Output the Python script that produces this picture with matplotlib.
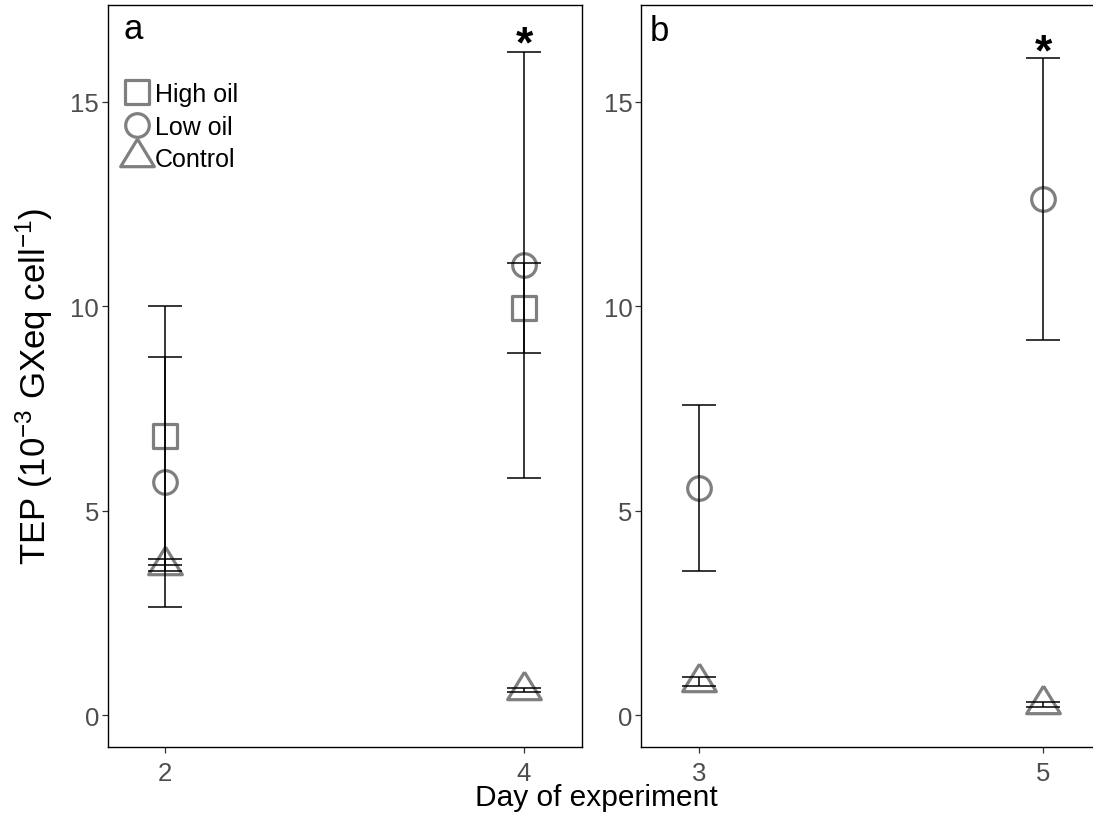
import matplotlib
matplotlib.use("Agg")
import matplotlib.pyplot as plt
from matplotlib.markers import MarkerStyle

plt.rcParams['font.family'] = ['Liberation Sans', 'DejaVu Sans']
plt.rcParams['mathtext.fontset'] = 'custom'
plt.rcParams['mathtext.rm'] = 'Liberation Sans'
plt.rcParams['mathtext.it'] = 'Liberation Sans:italic'
plt.rcParams['mathtext.bf'] = 'Liberation Sans:bold'

# panel a
days_a = [2, 4]
high_a = [6.83, 9.95]
high_a_err = [3.17, 1.1]
low_a = [5.7, 11.0]
low_a_err = [3.05, 5.2]
ctrl_a = [3.67, 0.61]
ctrl_a_err = [0.15, 0.05]

# panel b (no high oil treatment)
days_b = [3, 5]
low_b = [5.55, 12.62]
low_b_err = [2.03, 3.45]
ctrl_b = [0.82, 0.26]
ctrl_b_err = [0.11, 0.06]

# significance marks (day, panel)
star_a = [4]
star_b = [5]

grey = '#7f7f7f'
sq = MarkerStyle('s', joinstyle='round')
circ = MarkerStyle('o')
tri = MarkerStyle([(0, 0.547), (-0.5, -0.273), (0.5, -0.273), (0, 0.547)], joinstyle='round')


def draw_group(ax, days, vals, errs, marker, ms, label):
    ax.plot(days, vals, linestyle='none', marker=marker, ms=ms, mfc='none',
            mec=grey, mew=2.3, zorder=2, label=label)
    ax.errorbar(days, vals, yerr=errs, fmt='none', ecolor='black',
                elinewidth=1.1, capsize=12.5, capthick=1.1, zorder=3)


def style_axis(ax, xticks):
    ax.set_ylim(-0.78, 17.36)
    ax.set_yticks([0, 5, 10, 15])
    ax.set_xticks(xticks)
    for s in ax.spines.values():
        s.set_linewidth(1.0)
        s.set_color('black')
    ax.tick_params(axis='both', colors='#333333', labelcolor='#4d4d4d',
                   labelsize=18.5, length=4.3, width=0.9, pad=2)
    ax.tick_params(axis='x', pad=6)


fig = plt.figure(figsize=(10.93, 8.2), dpi=100)
ax_a = fig.add_axes([108 / 1093, 1 - 748 / 820, 474 / 1093, 742 / 820])
ax_b = fig.add_axes([641 / 1093, 1 - 748 / 820, 459 / 1093, 742 / 820])

draw_group(ax_a, days_a, high_a, high_a_err, sq, 17, 'High oil')
draw_group(ax_a, days_a, low_a, low_a_err, circ, 17, 'Low oil')
draw_group(ax_a, days_a, ctrl_a, ctrl_a_err, tri, 26.5, 'Control')
ax_a.set_xlim(1.682, 4.323)
style_axis(ax_a, days_a)

draw_group(ax_b, days_b, low_b, low_b_err, circ, 17, 'Low oil')
draw_group(ax_b, days_b, ctrl_b, ctrl_b_err, tri, 26.5, 'Control')
ax_b.set_xlim(2.663, 5.331)
style_axis(ax_b, days_b)

# asterisks on top of the error bars
for d in star_a:
    i = days_a.index(d)
    ax_a.annotate('*', xy=(d, low_a[i] + low_a_err[i]), xytext=(0, -9),
                  textcoords='offset points', ha='center', va='bottom',
                  fontsize=32, fontweight='bold')
for d in star_b:
    i = days_b.index(d)
    ax_b.annotate('*', xy=(d, low_b[i] + low_b_err[i]), xytext=(0, -11),
                  textcoords='offset points', ha='center', va='bottom',
                  fontsize=32, fontweight='bold')

ax_a.text(0.053, 0.968, 'a', transform=ax_a.transAxes, ha='center', va='center', fontsize=25)
ax_b.text(0.041, 0.965, 'b', transform=ax_b.transAxes, ha='center', va='center', fontsize=25)

ax_a.legend(loc='upper left', bbox_to_anchor=(0.035, 0.896), frameon=False,
            fontsize=18, handlelength=1.0, handletextpad=0.2, labelspacing=0.34,
            borderpad=0, borderaxespad=0)

ax_a.set_ylabel('TEP (10$^{-3}$ GXeq cell$^{-1}$)', fontsize=25)
ax_a.yaxis.set_label_coords(-0.112, 0.487)
fig.text(596 / 1093, 1 - 798 / 820, 'Day of experiment', ha='center', va='center', fontsize=21.5)

fig.savefig('out.png', dpi=100)
